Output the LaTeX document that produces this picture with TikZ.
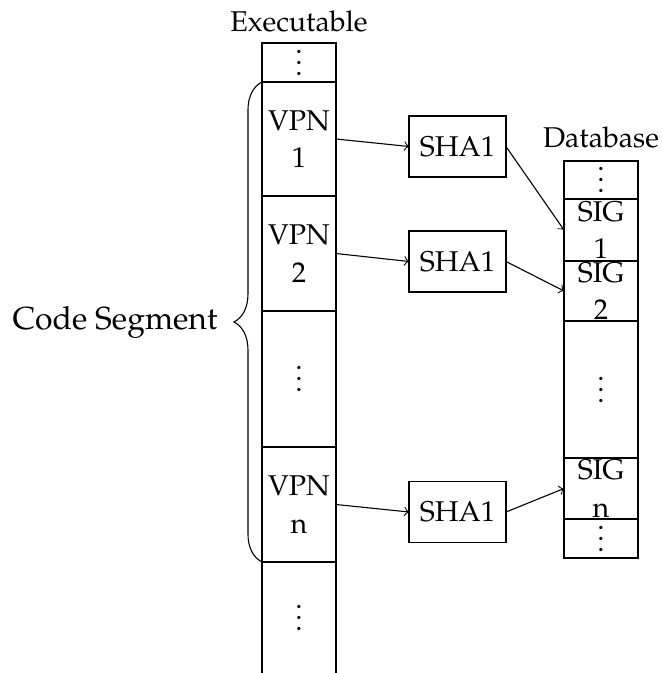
\documentclass[tikz,border=0pt]{standalone}
\usepackage[T1]{fontenc}
\usepackage{mathpazo}
\usetikzlibrary{decorations.pathreplacing}
\newcommand\pxu{0.36364pt}
\begin{document}
\begin{tikzpicture}[x=0.36364pt, y=-0.36364pt,
  every node/.style={font=\fontsize{10.4}{13.6}\selectfont},
  cell/.style={draw, line width=0.7pt, minimum width=74*\pxu, inner sep=0pt, outer sep=0pt, anchor=north},
  hashbox/.style={draw, line width=0.5pt, minimum width=97*\pxu, minimum height=61*\pxu, inner sep=0pt, outer sep=0pt},
  lbl/.style={align=center, inner sep=0pt},
  dotlbl/.style={inner sep=0pt, yshift=3pt},
  arr/.style={->, line width=0.4pt}]
\useasboundingbox (0,0) rectangle (662,673);

% executable pages
\node[cell, minimum height=39*\pxu]  (e0) at (299,43)  {};
\node[cell, minimum height=114*\pxu] (e1) at (299,82)  {};
\node[cell, minimum height=115*\pxu] (e2) at (299,196) {};
\node[cell, minimum height=136*\pxu] (e3) at (299,311) {};
\node[cell, minimum height=115*\pxu] (e4) at (299,447) {};
\node[cell, draw=none, minimum height=111*\pxu] (e5) at (299,562) {};
\draw[line width=0.7pt] (e5.north west) -- (e5.south west)
                        (e5.north east) -- (e5.south east);

\node[dotlbl] at (e0) {\vdots};
\node[lbl]    at (e1) {VPN\\1};
\node[lbl]    at (e2) {VPN\\2};
\node[dotlbl] at (e3) {\vdots};
\node[lbl]    at (e4) {VPN\\n};
\node[dotlbl] at (e5) {\vdots};

\node[anchor=base] (exe) at (299,32) {Executable};

% signature database
\node[cell, minimum height=38*\pxu]  (d0) at (601,161) {};
\node[cell, minimum height=62*\pxu]  (d1) at (601,199) {};
\node[cell, minimum height=60*\pxu]  (d2) at (601,261) {};
\node[cell, minimum height=137*\pxu] (d3) at (601,321) {};
\node[cell, minimum height=61*\pxu]  (d4) at (601,458) {};
\node[cell, minimum height=39*\pxu]  (d5) at (601,519) {};

\node[dotlbl] at (d0) {\vdots};
\node[lbl]    at (d1) {SIG\\1};
\node[lbl]    at (d2) {SIG\\2};
\node[dotlbl] at (d3) {\vdots};
\node[lbl]    at (d4) {SIG\\n};
\node[dotlbl] at (d5) {\vdots};

\node[anchor=base] (db) at (601,147) {Database};

% hashing
\node[hashbox] (h1) at (457.5,146.5) {SHA1};
\node[hashbox] (h2) at (457.5,261.5) {SHA1};
\node[hashbox] (h3) at (457.5,512)   {SHA1};

\draw[arr] (e1.east) -- (h1.west);
\draw[arr] (e2.east) -- (h2.west);
\draw[arr] (e4.east) -- (h3.west);
\draw[arr] (h1.east) -- (d1.west);
\draw[arr] (h2.east) -- (d2.west);
\draw[arr] (h3.east) -- (d4.west);

% code segment brace
\draw[decorate, decoration={brace, amplitude=10.2pt}, line width=0.4pt]
  (e4.south west) -- (e1.north west);
\node[anchor=base east, inner sep=0pt, font=\fontsize{11.6}{14}\selectfont] (cs) at (218,329) {Code Segment};
\end{tikzpicture}
\end{document}
